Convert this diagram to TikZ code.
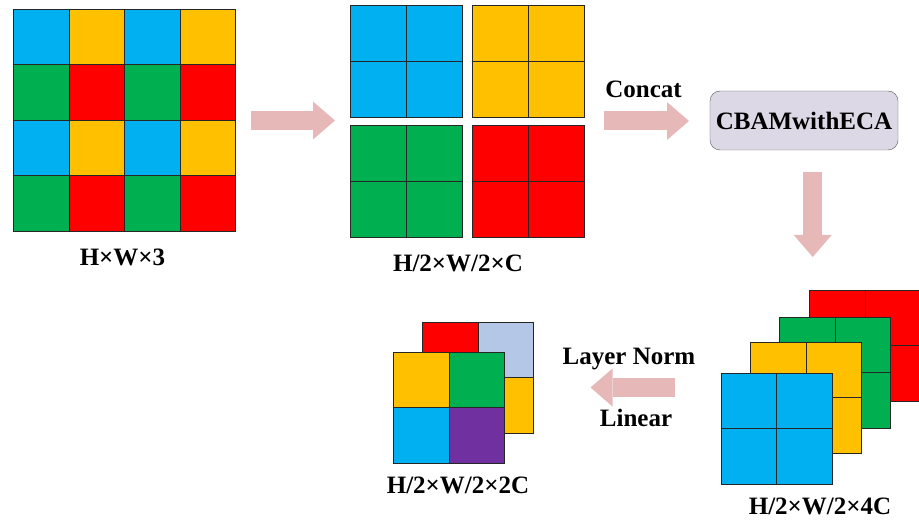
\documentclass[tikz,border=0pt]{standalone}
\usepackage{fontspec}
\setmainfont{Liberation Serif}
\usetikzlibrary{arrows.meta}
\definecolor{blu}{HTML}{00B0F0}
\definecolor{yel}{HTML}{FFC000}
\definecolor{grn}{HTML}{00B050}
\definecolor{rd}{HTML}{FF0000}
\definecolor{pur}{HTML}{7030A0}
\definecolor{gry}{HTML}{B4C7E7}
\definecolor{pinkarrow}{HTML}{E6B9B8}
\definecolor{lav}{HTML}{DDD8E6}
\tikzstyle{patch}=[draw=black!85, line width=0.6pt, inner sep=0pt, minimum size=55.5pt, anchor=north west]
\newcommand{\patch}{\node[patch]}
\tikzstyle{blockarrow}=[color=pinkarrow, line width=19pt, -{Triangle[width=38pt,length=22pt,line width=0pt]}]
\tikzstyle{lbl}=[font=\fontsize{25}{29}\selectfont\bfseries, anchor=base, inner sep=0pt]

\begin{document}
\begin{tikzpicture}[x=1pt,y=-1pt]
	\useasboundingbox (0,0) rectangle (919,521);
	%% input image, 4x4 patches
	\foreach \r/\ca/\cb in {0/blu/yel,1/grn/rd,2/blu/yel,3/grn/rd}
		\foreach \c/\fc in {0/\ca,1/\cb,2/\ca,3/\cb}
			\patch[fill=\fc] (g-\r-\c) at (13+55.5*\c,9+55.5*\r) {};
	\node[lbl] (l1) at (122.5,266) {H×W×3};
	%% the four sub-sampled maps
	\foreach \nm/\x/\y/\fc in {b/350/5/blu,y/472/5/yel,g/350/125/grn,r/472/125/rd}
		\foreach \r in {0,1}
			\foreach \c in {0,1}
				\patch[fill=\fc,minimum size=56pt] (\nm-\r-\c) at (\x+56*\c,\y+56*\r) {};
	\node[lbl] (l2) at (458,271.5) {H/2×W/2×C};
	%% attention block
	\node[draw=black!65, fill=lav, rounded corners=10pt, minimum width=188pt, minimum height=59pt,
		font=\fontsize{25}{29}\selectfont\bfseries] (cbam) at (804,120.5) {CBAMwithECA};
	\node[lbl] (concat) at (643.5,98) {Concat};
	%% stacked maps, drawn back to front
	\foreach \nm/\x/\y/\fc in {sr/809/290/rd,sg/779/317/grn,sy/750/342/yel,sb/720.5/373/blu}
		\foreach \r in {0,1}
			\foreach \c in {0,1}
				\patch[fill=\fc] (\nm-\r-\c) at (\x+55.5*\c,\y+55.5*\r) {};
	\node[lbl] (l3) at (820,514) {H/2×W/2×4C};
	%% output maps
	\foreach \r/\c/\fc in {0/0/rd,0/1/gry,1/0/grn,1/1/yel}
		\patch[fill=\fc] (k-\r-\c) at (422+55.5*\c,322+55.5*\r) {};
	\foreach \r/\c/\fc in {0/0/yel,0/1/grn,1/0/blu,1/1/pur}
		\patch[fill=\fc] (o-\r-\c) at (393+55.5*\c,352+55.5*\r) {};
	\node[lbl] (l4) at (458,493) {H/2×W/2×2C};
	\node[lbl] (ln) at (629,365) {Layer Norm};
	\node[lbl] (lin) at (636,427) {Linear};
	% ends of the block arrows
	\coordinate (a1s) at (251,120.5);
	\coordinate (a1e) at (335,120.5);
	\coordinate (a2s) at (604,121);
	\coordinate (a2e) at (689,121);
	\coordinate (a3s) at (812.7,172);
	\coordinate (a3e) at (812.7,257);
	\coordinate (a4s) at (675,387.5);
	\coordinate (a4e) at (590.5,387.5);
	\draw[blockarrow] (a1s) -- (a1e);
	\draw[blockarrow] (a2s) -- (a2e);
	\draw[blockarrow] (a3s) -- (a3e);
	\draw[blockarrow] (a4s) -- (a4e);
\end{tikzpicture}
\end{document}
